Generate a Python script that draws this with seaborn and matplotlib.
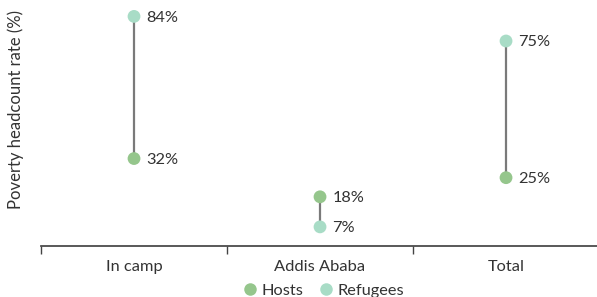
import pandas as pd
import matplotlib.pyplot as plt
import seaborn as sns

# data
locations = ["In camp", "Addis Ababa", "Total"]
hosts = [32, 18, 25]
refugees = [84, 7, 75]

HOST_COL = "#95c68c"
REF_COL = "#a8dcc6"
TEXT_COL = "#333333"


def main():
    sns.set_theme(style="white")
    plt.rcParams["font.family"] = ["Lato", "DejaVu Sans"]

    df = pd.DataFrame({
        "location": locations * 2,
        "group": ["Hosts"] * 3 + ["Refugees"] * 3,
        "rate": hosts + refugees,
    })
    df["x"] = df["location"].map({loc: i for i, loc in enumerate(locations)})

    fig = plt.figure(figsize=(5.97, 2.97), dpi=100)
    ax = fig.add_axes([0.0687, 0.1717, 0.9347, 0.8283])

    # connecting lines
    ax.vlines(range(len(locations)), hosts, refugees, color="#7a7a7a", lw=1.6, zorder=1)

    sns.scatterplot(data=df, x="x", y="rate", hue="group",
                    palette={"Hosts": HOST_COL, "Refugees": REF_COL},
                    s=85, edgecolor="none", ax=ax, zorder=2, legend=False)

    for _, r in df.iterrows():
        ax.annotate(f"{r['rate']}%", (r["x"], r["rate"]), xytext=(9, -1),
                    textcoords="offset points", va="center", ha="left",
                    fontsize=11.8, color=TEXT_COL)

    ax.set_xlim(-0.5, len(locations) - 0.5)
    ax.set_ylim(0, 90)
    ax.set_xticks(range(len(locations)))
    ax.set_xticklabels(locations, fontsize=11.8, color=TEXT_COL)
    ax.set_xticks([i - 0.5 for i in range(len(locations) + 1)], minor=True)
    ax.tick_params(axis="x", which="major", length=0, pad=10)
    ax.tick_params(axis="x", which="minor", length=6, width=1, color="#444444",
                   bottom=True)
    ax.set_yticks([])
    ax.set_xlabel("")
    ax.set_ylabel("Poverty headcount rate (%)", fontsize=12, color=TEXT_COL)
    ax.yaxis.set_label_coords(-0.031, 0.555)
    sns.despine(ax=ax, left=True)
    ax.spines["bottom"].set_color("#444444")

    handles = [
        plt.Line2D([], [], marker="o", ls="", markersize=9, color=HOST_COL, markeredgewidth=0),
        plt.Line2D([], [], marker="o", ls="", markersize=9, color=REF_COL, markeredgewidth=0),
    ]
    leg = fig.legend(handles, ["Hosts", "Refugees"], loc="center",
                     bbox_to_anchor=(0.54, 0.022), ncol=2, frameon=False,
                     fontsize=11.8, handletextpad=0.1, columnspacing=0.8,
                     handlelength=1.2)
    for t in leg.get_texts():
        t.set_color(TEXT_COL)

    fig.savefig("out.png", dpi=100)
    plt.close(fig)


if __name__ == "__main__":
    main()
